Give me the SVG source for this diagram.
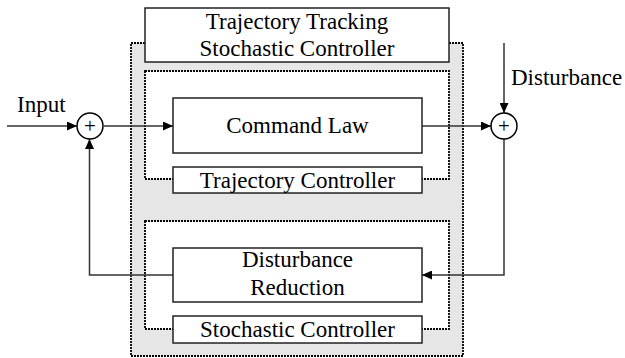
<svg xmlns="http://www.w3.org/2000/svg" width="625" height="358" viewBox="0 0 625 358" font-family="'Liberation Serif', 'Times New Roman', serif">
<defs>
<marker id="arr" viewBox="0 0 10 10" refX="10" refY="5" markerWidth="10" markerHeight="9" markerUnits="userSpaceOnUse" orient="auto" preserveAspectRatio="none">
<path d="M0,0 L10,5 L0,10 z" fill="#000"/>
</marker>
</defs>
<style>
text{font-family:'Liberation Serif','Times New Roman',serif;font-size:23px;fill:#000}
.c{text-anchor:middle}
.box{fill:#fff;stroke:#222;stroke-width:1.5}
.dot{stroke:#000;stroke-width:1.8;stroke-dasharray:2 1;fill:#fff}
.line{fill:none;stroke:#333;stroke-width:1.5}
.sum{fill:#fff;stroke:#000;stroke-width:1.5}
</style>
<g id="outer">
<rect x="131" y="43" width="332" height="313" fill="#e6e6e6" stroke="#000" stroke-width="1.8" stroke-dasharray="2 1"/>
</g>
<g id="title">
<rect class="box" x="145" y="8" width="304" height="54"/>
<text class="c" x="297" y="29">Trajectory Tracking</text>
<text class="c" x="297" y="56">Stochastic Controller</text>
</g>
<g id="trajGroup">
<rect class="dot" x="145" y="71" width="304" height="108"/>
</g>
<g id="stochGroup">
<rect class="dot" x="145" y="221" width="304" height="108"/>
</g>
<g id="connectors">
<path class="line" d="M7,126 H77" marker-end="url(#arr)"/>
<path class="line" d="M104,126 H173" marker-end="url(#arr)"/>
<path class="line" d="M422,126 H491" marker-end="url(#arr)"/>
<path class="line" d="M504,43 V113" marker-end="url(#arr)"/>
<path class="line" d="M504,139 V275 H422" marker-end="url(#arr)"/>
<path class="line" d="M173,275 H89.5 V139" marker-end="url(#arr)"/>
</g>
<g id="commandLaw">
<rect class="box" x="173" y="98" width="249" height="55"/>
<text class="c" x="297.5" y="133">Command Law</text>
</g>
<g id="trajectoryController">
<rect class="box" x="173" y="167" width="249" height="26"/>
<text class="c" x="297.5" y="188">Trajectory Controller</text>
</g>
<g id="disturbanceReduction">
<rect class="box" x="173" y="248" width="249" height="54"/>
<text class="c" x="297.5" y="267">Disturbance</text>
<text class="c" x="297.5" y="295">Reduction</text>
</g>
<g id="stochasticController">
<rect class="box" x="173" y="316" width="249" height="27"/>
<text class="c" x="297.5" y="337">Stochastic Controller</text>
</g>
<g id="sum1">
<circle class="sum" cx="90" cy="126" r="13"/>
<text class="c" x="90" y="133" style="font-size:21px">+</text>
</g>
<g id="sum2">
<circle class="sum" cx="504" cy="126" r="13"/>
<text class="c" x="504" y="133" style="font-size:21px">+</text>
</g>
<g id="labels">
<text x="17" y="112">Input</text>
<text x="511" y="85">Disturbance</text>
</g>
</svg>
